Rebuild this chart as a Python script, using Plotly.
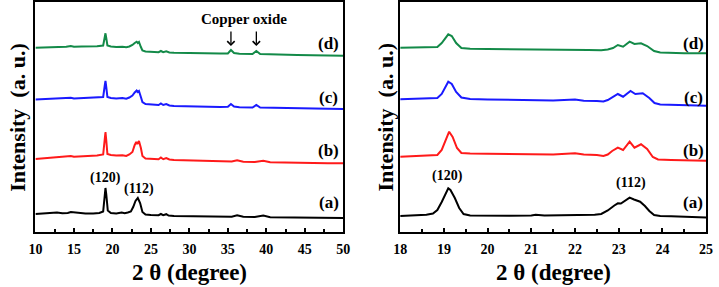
import plotly.graph_objects as go

# ---------------- data (left panel: 10-50 deg) ----------------
L_a_x = [10, 11, 12, 12.8, 13.5, 14.2, 14.6, 15.0, 15.5, 16.5, 17.5, 18.3, 18.8, 19.0, 19.1, 19.2, 19.4, 19.8, 20.5, 21.2, 21.6, 22.0, 22.4, 22.7, 23.0, 23.3, 23.6, 23.9, 24.3, 25, 26, 26.3, 26.6, 27.0, 27.3, 28, 30, 32, 34, 35.5, 36.2, 37, 38.5, 39.6, 40.5, 42, 44, 46, 48, 50]
L_a_y = [18, 18.5, 18.7, 19.5, 18.8, 19.0, 20.0, 19.8, 18.8, 18.5, 18.6, 19.0, 20.5, 36, 44, 38, 21.5, 19.0, 18.6, 19.5, 18.8, 19.5, 20.5, 25, 31, 34, 29, 20, 17.5, 17, 16.8, 18, 16.8, 17.8, 16.5, 16, 15.8, 15.5, 15.3, 15.3, 16.8, 15.2, 15, 16.5, 14.8, 14.6, 14.5, 14.3, 14.2, 14]

L_b_x = [10, 11, 12, 13, 14, 14.6, 15, 16, 17, 18, 18.8, 19.0, 19.1, 19.2, 19.35, 19.8, 20.5, 21.3, 21.8, 22.2, 22.6, 22.9, 23.1, 23.25, 23.45, 23.7, 23.9, 24.3, 25, 26, 26.3, 26.6, 27, 27.4, 28, 30, 32, 34, 35.5, 36.2, 37, 38.5, 39.6, 40.5, 42, 44, 46, 48, 50]
L_b_y = [73, 73.5, 74, 74.5, 75, 76, 75.3, 75.5, 76, 76.5, 77.5, 92, 100, 92, 78, 77, 76.5, 76.8, 76, 77.5, 80, 87, 90, 88, 91, 84, 76, 73.5, 73, 72.8, 74.5, 72.8, 74, 72.5, 72, 71.5, 71, 70.8, 70.5, 71.8, 70.3, 70, 71.2, 69.8, 69.5, 69.3, 69, 68.8, 68.7]

L_c_x = [10, 11, 12, 13, 14, 14.6, 15, 16, 17, 18, 18.8, 19.0, 19.1, 19.2, 19.35, 19.8, 20.5, 21.3, 21.8, 22.2, 22.6, 22.9, 23.15, 23.3, 23.45, 23.7, 23.9, 24.3, 25, 26, 26.3, 26.6, 27, 27.4, 28, 30, 32, 34, 35.0, 35.4, 35.8, 36.5, 38.2, 38.7, 39.2, 40.5, 42, 44, 46, 48, 50]
L_c_y = [132.5, 132.8, 133, 133.2, 133.5, 134.3, 133.6, 133.8, 134, 134.3, 135, 146, 151, 145, 135, 134, 133.6, 134, 133.3, 134.5, 136.5, 139.5, 141.5, 140, 141, 135, 130, 128, 127.5, 127, 128.5, 127, 128, 126.5, 126, 125.5, 125.2, 125, 125.2, 128, 125.5, 124.8, 124.5, 127, 124.5, 124.2, 124, 123.8, 123.5, 123.2, 123]

L_d_x = [10, 11, 12, 13, 14, 14.6, 15, 16, 17, 18, 18.8, 19.0, 19.1, 19.2, 19.35, 19.8, 20.5, 21.3, 21.8, 22.2, 22.6, 22.9, 23.15, 23.3, 23.45, 23.7, 23.9, 24.3, 25, 26, 26.3, 26.6, 27, 27.4, 28, 30, 32, 34, 35.0, 35.4, 35.8, 36.5, 38.2, 38.7, 39.2, 40.5, 42, 44, 46, 48, 50]
L_d_y = [184.3, 184.5, 184.8, 185, 185.2, 186, 185.3, 185.5, 185.5, 185.8, 186.5, 195, 198.7, 194, 186.5, 185.5, 185, 185.3, 184.8, 185.5, 187, 189, 190.3, 189, 190, 185, 181.5, 180.5, 180.3, 179.8, 181, 179.8, 180.6, 179.5, 179.2, 178.8, 178.6, 178.5, 178.6, 182, 179, 178.3, 178, 181, 178, 177.6, 177.3, 177, 176.7, 176.5, 176.2]

# ---------------- data (right panel: 18-25 deg) ----------------
R_a_x = [18, 18.2, 18.4, 18.6, 18.75, 18.85, 18.95, 19.05, 19.1, 19.15, 19.25, 19.35, 19.45, 19.6, 19.8, 20, 20.5, 21, 21.1, 21.3, 21.6, 21.9, 22.2, 22.45, 22.6, 22.75, 22.9, 22.98, 23.05, 23.15, 23.25, 23.35, 23.49, 23.6, 23.7, 23.81, 23.95, 24.2, 24.5, 24.8, 25]
R_a_y = [16, 16.5, 16.8, 17.2, 18.5, 22, 30, 40, 43.7, 42, 34, 24, 18, 16.5, 16.3, 16.2, 16.3, 16.5, 17.2, 16.4, 16.5, 17.3, 16.8, 17.3, 18, 21.5, 26.5, 28.7, 28.5, 31.5, 34.3, 32.5, 30.3, 26, 21, 17, 16, 15.8, 15.5, 15, 14.5]

R_b_x = [18, 18.3, 18.6, 18.85, 18.95, 19.05, 19.12, 19.2, 19.3, 19.4, 19.6, 20, 20.5, 21, 21.5, 22, 22.2, 22.5, 22.65, 22.75, 22.85, 22.98, 23.1, 23.25, 23.36, 23.51, 23.65, 23.78, 23.9, 24.2, 24.5, 24.8, 25]
R_b_y = [75.3, 75.8, 76.3, 77, 82, 94, 100.3, 95, 84, 79, 78.5, 78.3, 78, 77.8, 77.5, 78.8, 77.5, 77, 76, 77.5, 81, 84.3, 82, 90.3, 84.3, 87.7, 83, 75, 72.5, 72, 71.8, 71.5, 71.3]

R_c_x = [18, 18.3, 18.6, 18.85, 18.95, 19.05, 19.1, 19.18, 19.28, 19.4, 19.6, 20, 20.5, 21, 21.5, 22, 22.2, 22.5, 22.65, 22.75, 22.85, 22.98, 23.1, 23.27, 23.38, 23.55, 23.7, 23.82, 23.95, 24.2, 24.5, 24.8, 25]
R_c_y = [132.8, 133, 133.3, 134, 138, 146, 150.3, 148, 140, 134.5, 133, 132.5, 132.3, 132, 131.5, 132.5, 131.3, 131, 130.5, 132, 135, 138, 135.3, 141, 138, 138.7, 134, 129, 127.5, 127, 126.8, 126.5, 126.3]

R_d_x = [18, 18.3, 18.6, 18.85, 18.95, 19.05, 19.1, 19.18, 19.28, 19.4, 19.6, 20, 20.5, 21, 21.5, 22, 22.3, 22.6, 22.75, 22.87, 22.98, 23.1, 23.25, 23.36, 23.51, 23.65, 23.81, 23.95, 24.2, 24.5, 24.8, 25]
R_d_y = [184.3, 184.5, 184.6, 185, 189, 195.5, 197.7, 196, 189, 184, 183.2, 183, 182.8, 182.5, 182.3, 182.8, 182, 181.8, 182.5, 184, 187, 185.3, 190.3, 188, 188.7, 186, 181, 179.5, 179, 178.8, 178.7, 178.7]

series_labels = ["(a)", "(b)", "(c)", "(d)"]
label_y = [30, 82, 135, 189]
peak_labels = ["(120)", "(112)"]
left_peak_pos = [(19.1, 54), (23.4, 43)]
right_peak_pos = [(19.08, 56), (23.28, 49)]
copper_peaks = [35.4, 38.7]

colors = ["#000000", "#ff1a1a", "#1a1aff", "#138a48"]

W, H = 719, 287
SERIF = "Liberation Serif, Times New Roman, serif"

fig = go.Figure()
left_sets = [(L_a_x, L_a_y), (L_b_x, L_b_y), (L_c_x, L_c_y), (L_d_x, L_d_y)]
right_sets = [(R_a_x, R_a_y), (R_b_x, R_b_y), (R_c_x, R_c_y), (R_d_x, R_d_y)]
for (x, y), c in zip(left_sets, colors):
    fig.add_trace(go.Scatter(x=x, y=y, mode="lines", line=dict(color=c, width=2),
                             xaxis="x", yaxis="y", showlegend=False))
for (x, y), c in zip(right_sets, colors):
    fig.add_trace(go.Scatter(x=x, y=y, mode="lines", line=dict(color=c, width=2),
                             xaxis="x2", yaxis="y2", showlegend=False))

ydom = [55 / H, 285 / H]
xcommon = dict(showline=True, linewidth=2, linecolor="black", mirror=True, showgrid=False,
               zeroline=False, ticks="inside", ticklen=4, tickwidth=1.5, tickcolor="black",
               ticklabelstandoff=3,
               tickfont=dict(family=SERIF, size=14, color="black", weight="bold"))
ycommon = dict(showline=True, linewidth=2, linecolor="black", mirror=True, showgrid=False,
               zeroline=False, showticklabels=False, ticks="", range=[0, 230])

fig.update_layout(
    width=W, height=H, margin=dict(l=0, r=0, t=0, b=0),
    paper_bgcolor="white", plot_bgcolor="white",
    xaxis=dict(domain=[29 / W, 343 / W], range=[10, 50], dtick=5, tick0=10,
               minor=dict(dtick=2.5, ticks="inside", ticklen=3, tickcolor="black"),
               anchor="y", **xcommon),
    yaxis=dict(domain=ydom, anchor="x", **ycommon),
    xaxis2=dict(domain=[401 / W, 713 / W], range=[18, 25], dtick=1, tick0=18,
                minor=dict(dtick=0.5, ticks="inside", ticklen=3, tickcolor="black"),
                anchor="y2", **xcommon),
    yaxis2=dict(domain=ydom, anchor="x2", **ycommon),
)

ann = []
for t, yy in zip(series_labels, label_y):
    ann.append(dict(x=48.1, y=yy, xref="x", yref="y", text=t, showarrow=False,
                    font=dict(family=SERIF, size=17, color="black", weight="bold")))
    ann.append(dict(x=24.7, y=yy, xref="x2", yref="y2", text=t, showarrow=False,
                    font=dict(family=SERIF, size=17, color="black", weight="bold")))
for t, (px, py) in zip(peak_labels, left_peak_pos):
    ann.append(dict(x=px, y=py, xref="x", yref="y", text=t, showarrow=False,
                    font=dict(family=SERIF, size=14, color="black", weight="bold")))
for t, (px, py) in zip(peak_labels, right_peak_pos):
    ann.append(dict(x=px, y=py, xref="x2", yref="y2", text=t, showarrow=False,
                    font=dict(family=SERIF, size=14, color="black", weight="bold")))
ann.append(dict(x=37.1, y=213, xref="x", yref="y", text="Copper oxide", showarrow=False,
                font=dict(family=SERIF, size=15, color="black", weight="bold")))
for cp in copper_peaks:
    ann.append(dict(x=cp, y=186, ax=cp, ay=202, xref="x", yref="y", axref="x", ayref="y",
                    text="", showarrow=True, arrowhead=4, arrowsize=1.1, arrowwidth=1.3,
                    arrowcolor="black"))
for cx in [186 / W, 557 / W]:
    ann.append(dict(x=cx, y=(H - 272) / H, xref="paper", yref="paper", text="2 θ (degree)",
                    xanchor="center", yanchor="middle", showarrow=False,
                    font=dict(family=SERIF, size=23, color="black", weight="bold")))
for cx in [10 / W, 385 / W]:
    ann.append(dict(x=cx, y=(H - 117) / H, xref="paper", yref="paper", text="Intensity  (a. u.)",
                    xanchor="center", yanchor="middle", textangle=-90, showarrow=False,
                    font=dict(family=SERIF, size=22, color="black", weight="bold")))
fig.update_layout(annotations=ann)

fig.write_html("out.html", config={"displayModeBar": False},
               post_script="document.body.style.margin='0';")
